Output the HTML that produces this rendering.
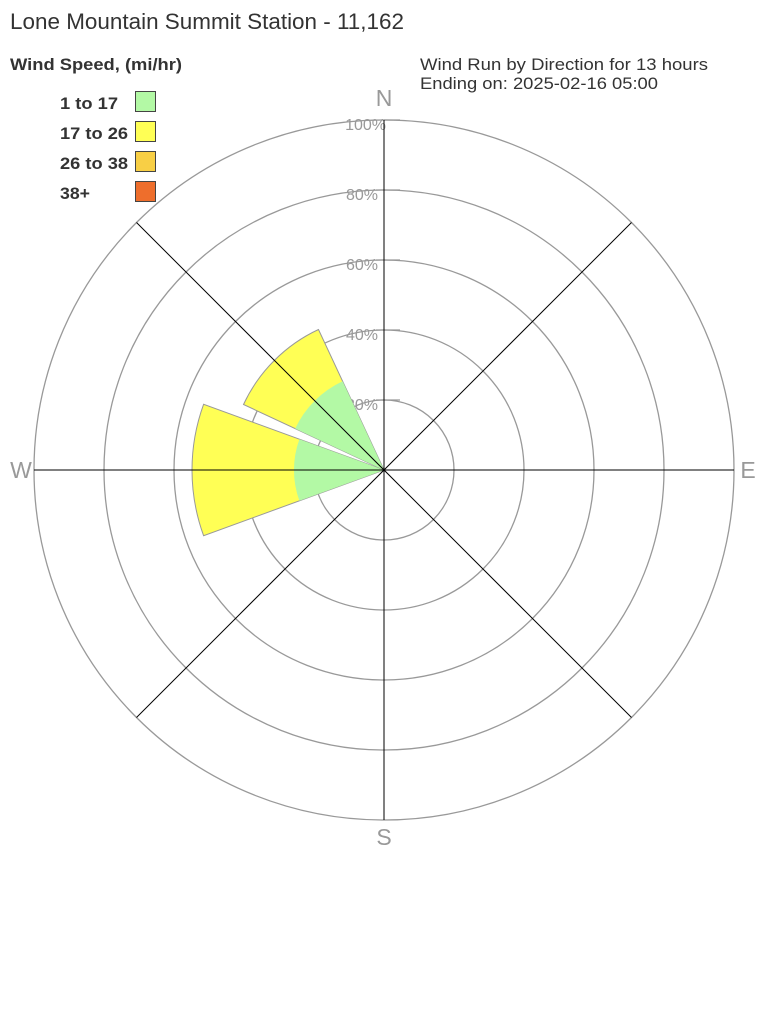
<!DOCTYPE html>
<html><head><style>
body{margin:0;background:#fff;width:768px;height:1008px;overflow:hidden}
svg text{font-family:"Liberation Sans",sans-serif}
</style></head><body>
<svg width="768" height="1008" xmlns="http://www.w3.org/2000/svg">
<rect width="768" height="1008" fill="#fff"/>
<text x="10" y="29" font-size="22" fill="#333" textLength="394" lengthAdjust="spacingAndGlyphs">Lone Mountain Summit Station - 11,162</text>
<text x="10" y="70" font-size="17" font-weight="bold" fill="#333" textLength="172" lengthAdjust="spacingAndGlyphs">Wind Speed, (mi/hr)</text>
<text x="420" y="70" font-size="17" fill="#333" textLength="288" lengthAdjust="spacingAndGlyphs">Wind Run by Direction for 13 hours</text>
<text x="420" y="89" font-size="17" fill="#333" textLength="238" lengthAdjust="spacingAndGlyphs">Ending on: 2025-02-16 05:00</text>
<g font-size="17" font-weight="bold" fill="#333">
<text x="60" y="109" textLength="58" lengthAdjust="spacingAndGlyphs">1 to 17</text>
<text x="60" y="139" textLength="68" lengthAdjust="spacingAndGlyphs">17 to 26</text>
<text x="60" y="169" textLength="68" lengthAdjust="spacingAndGlyphs">26 to 38</text>
<text x="60" y="199" textLength="30" lengthAdjust="spacingAndGlyphs">38+</text>
</g>
<g stroke="#444" stroke-width="1">
<rect x="135.5" y="91.5" width="20" height="20" fill="#b3f9a5"/>
<rect x="135.5" y="121.5" width="20" height="20" fill="#ffff55"/>
<rect x="135.5" y="151.5" width="20" height="20" fill="#f8cf45"/>
<rect x="135.5" y="181.5" width="20" height="20" fill="#ee6e2c"/>
</g>
<g fill="none" stroke="#999" stroke-width="1.3">
<circle cx="384" cy="470" r="70"/><circle cx="384" cy="470" r="140"/>
<circle cx="384" cy="470" r="210"/><circle cx="384" cy="470" r="280"/>
<circle cx="384" cy="470" r="350"/>
</g>
<g font-size="16" fill="#999" text-anchor="end">
<text x="386" y="130">100%</text><text x="378" y="200">80%</text>
<text x="378" y="270">60%</text><text x="378" y="340">40%</text>
<text x="378" y="410">20%</text>
</g>
<g stroke="#999" stroke-width="1.3">
<line x1="384" y1="120" x2="400" y2="120"/><line x1="376" y1="190" x2="400" y2="190"/>
<line x1="376" y1="260" x2="400" y2="260"/><line x1="376" y1="330" x2="400" y2="330"/>
<line x1="376" y1="400" x2="400" y2="400"/>
</g>
<g font-size="23" fill="#999" text-anchor="middle">
<text x="384" y="106">N</text><text x="384" y="845">S</text>
<text x="21" y="478">W</text><text x="748" y="478">E</text>
</g>
<path d="M384,470 L203.6,404.3 A192,192 0 0 0 203.6,535.7 Z" fill="#ffff55" stroke="#999"/>
<path d="M384,470 L299.4,439.2 A90,90 0 0 0 299.4,500.8 Z" fill="#b3f9a5"/>
<path d="M384,470 L243.5,404.5 A155,155 0 0 1 318.5,329.5 Z" fill="#ffff55" stroke="#999"/>
<path d="M384,470 L295.2,428.6 A98,98 0 0 1 342.6,381.2 Z" fill="#b3f9a5"/>
<g stroke="#000" stroke-width="1">
<line x1="384" y1="120" x2="384" y2="820"/>
<line x1="34" y1="470" x2="734" y2="470"/>
<line x1="136.5" y1="222.5" x2="631.5" y2="717.5"/>
<line x1="631.5" y1="222.5" x2="136.5" y2="717.5"/>
</g>
</svg>
</body></html>
